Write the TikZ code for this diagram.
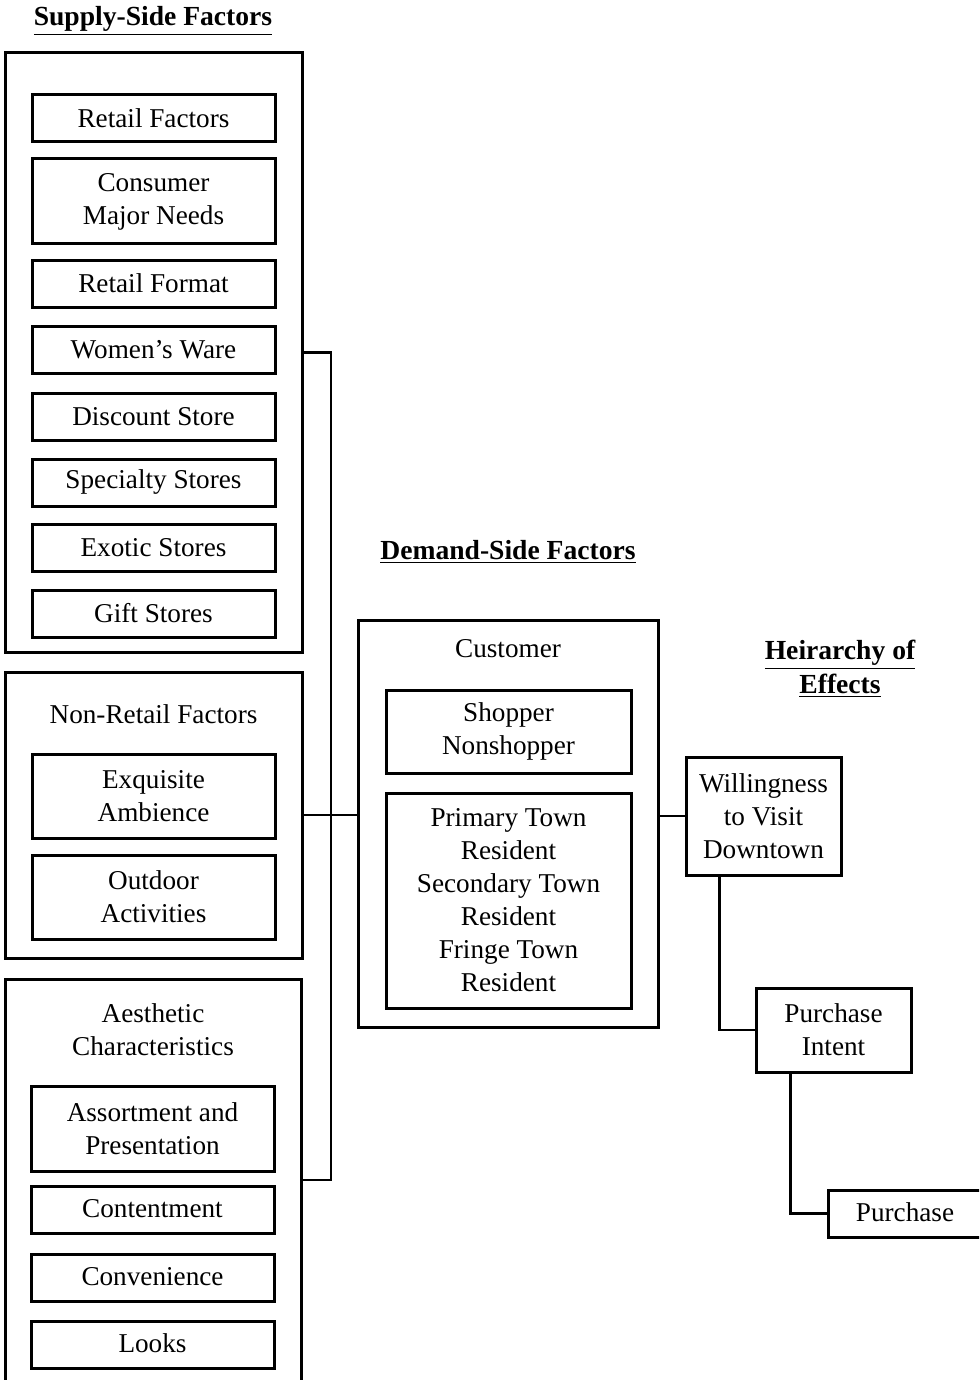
\documentclass[tikz,border=0pt]{standalone}
\usepackage{fontspec}
\setmainfont{Liberation Serif}
\begin{document}
\begin{tikzpicture}[x=0.5pt,y=-0.5pt,
  txt/.style={font=\fontsize{13.6pt}{16.5pt}\selectfont, align=center, inner sep=0pt},
  ttl/.style={font=\fontsize{13.8pt}{16.8pt}\selectfont\bfseries, align=center, inner sep=0pt},
  box/.style={txt, draw, line width=1.5pt, rectangle},
  outer/.style={draw, line width=1.5pt, rectangle, inner sep=0pt},
  wire/.style={line width=1.4pt}]
\clip (0,0) rectangle (979,1380);
\useasboundingbox (0,0) rectangle (979,1380);

% titles
\node[ttl] (tsup) at (153,21) {\underline{Supply-Side Factors}};
\node[ttl] (tdem) at (508,552) {\underline{Demand-Side Factors}};
\node[ttl] (thie) at (840,669) {\underline{Heirarchy of}\\\underline{Effects}};

% supply-side groups
\node[outer, minimum width=148.5pt, minimum height=299.5pt] (supply) at (153.5,352.5) {};
\node[outer, minimum width=148.5pt, minimum height=143pt] (nonret) at (153.5,815) {};
\node[outer, minimum width=148pt, minimum height=201pt] (aesth) at (153,1180) {};

\node[txt] (tnon) at (153.5,714) {Non-Retail Factors};
\node[txt] (taes) at (153,1029.5) {Aesthetic\\Characteristics};

\node[box, minimum width=121.5pt, minimum height=23.5pt] (rf)  at (153.5,118.5) {Retail Factors};
\node[box, minimum width=121.5pt, minimum height=42.5pt] (cmn) at (153.5,201.5) {\raisebox{-1.5pt}{\parbox{110pt}{\centering Consumer\\Major Needs}}};
\node[box, minimum width=121.5pt, minimum height=23.5pt] (rfo) at (153.5,283.5) {Retail Format};
\node[box, minimum width=121.5pt, minimum height=23.5pt] (ww)  at (153.5,349.5) {Women's Ware};
\node[box, minimum width=121.5pt, minimum height=23.5pt] (ds)  at (153.5,416.5) {Discount Store};
\node[box, minimum width=121.5pt, minimum height=23.5pt, text height=9pt, text depth=2.6pt] (sps) at (153.5,482.5) {Specialty Stores};
\node[box, minimum width=121.5pt, minimum height=23.5pt] (es)  at (153.5,547.5) {Exotic Stores};
\node[box, minimum width=121.5pt, minimum height=23.5pt] (gs)  at (153.5,613.5) {Gift Stores};

\node[box, minimum width=121.5pt, minimum height=42pt] (ea) at (153.5,796) {\raisebox{-1pt}{\parbox{110pt}{\centering Exquisite\\Ambience}}};
\node[box, minimum width=121.5pt, minimum height=42pt] (oa) at (153.5,897) {Outdoor\\Activities};

\node[box, minimum width=121.5pt, minimum height=42.5pt] (ap) at (152.5,1128.5) {Assortment and\\Presentation};
\node[box, minimum width=121.5pt, minimum height=23.5pt, text height=9pt, text depth=1.2pt] (ct) at (152.5,1209.5) {Contentment};
\node[box, minimum width=121.5pt, minimum height=23.5pt, text height=9pt, text depth=1.2pt] (cv) at (152.5,1277.5) {Convenience};
\node[box, minimum width=121.5pt, minimum height=23.5pt, text height=9pt, text depth=1.2pt] (lk) at (152.5,1344.5) {Looks};

% demand side
\node[outer, minimum width=150pt, minimum height=203.5pt] (cust) at (508,823.5) {};
\node[txt] (tcust) at (508,649) {Customer};
\node[box, minimum width=122.5pt, minimum height=41.5pt] (shop) at (508.5,731.5) {\raisebox{-2pt}{\parbox{110pt}{\centering Shopper\\Nonshopper}}};
\node[box, minimum width=122.5pt, minimum height=107.5pt] (town) at (508.5,900.5)
  {\raisebox{1pt}{\parbox{115pt}{\centering Primary Town\\Resident\\Secondary Town\\Resident\\Fringe Town\\Resident}}};

% hierarchy of effects
\node[box, minimum width=77.5pt, minimum height=59pt] (will) at (763.5,816) {Willingness\\to Visit\\Downtown};
\node[box, minimum width=77.5pt, minimum height=42pt] (pint) at (833.5,1030) {\raisebox{-1pt}{\parbox{70pt}{\centering Purchase\\Intent}}};
\node[box, minimum width=77pt, minimum height=23.5pt, text height=9pt, text depth=1.2pt] (pur) at (905,1213.5) {Purchase};

% connectors
\coordinate (trunk) at (331,354);
\draw[wire] (supply.east) -- (supply.east -| trunk) -- (aesth.east -| trunk) -- (aesth.east);
\draw[wire] (nonret.east) -- (nonret.east -| cust.west);
\draw[wire] (will.west) -- (will.west -| cust.east);
\draw[wire] ([xshift=17.5pt]will.south west) |- (pint.west);
\draw[wire] ([xshift=18pt]pint.south west) |- (pur.west);
\end{tikzpicture}
\end{document}
